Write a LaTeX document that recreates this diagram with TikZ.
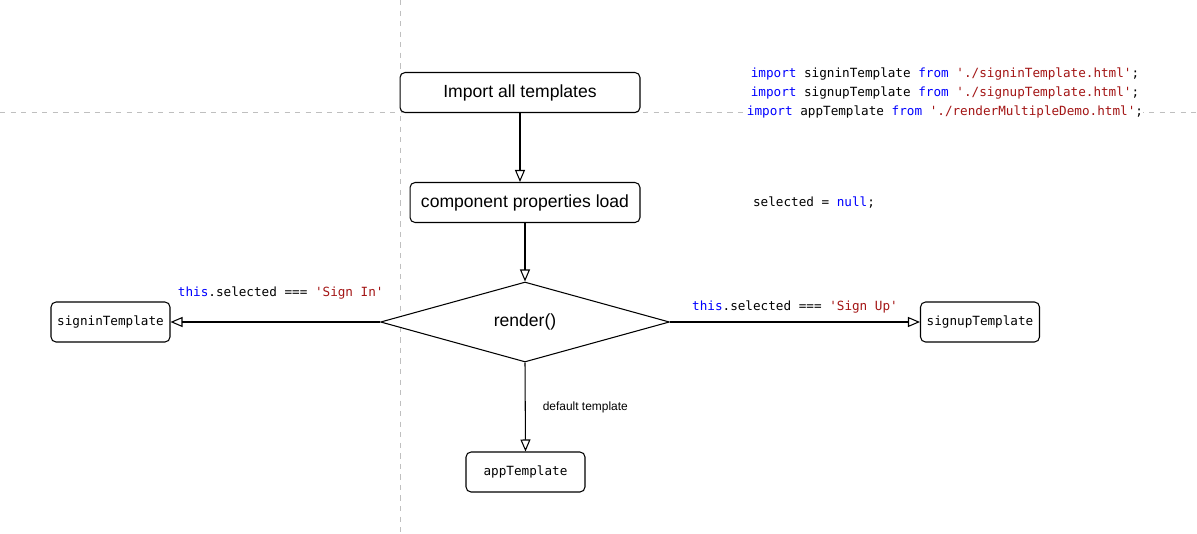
\documentclass[tikz,border=0pt]{standalone}
\usepackage{fontspec}
\setsansfont{Liberation Sans}
\setmonofont{DejaVu Sans Mono}
\usetikzlibrary{shapes.geometric,arrows.meta}
\definecolor{kwblue}{RGB}{0,0,255}
\definecolor{strred}{RGB}{163,21,21}
\newcommand{\codekw}[1]{\textcolor{kwblue}{#1}}
\newcommand{\codestr}[1]{\textcolor{strred}{#1}}

\begin{document}
\begin{tikzpicture}
[
  x=0.02cm, y=-0.02cm,
  guide/.style={dashed,gray!50,line width=0.4pt},
  box/.style={draw,fill=white,rounded corners=1mm,line width=0.6pt,minimum height=0.8cm,inner sep=2pt,font=\sffamily\fontsize{10}{12}\selectfont},
  tbox/.style={box,minimum width=2.38cm,font=\ttfamily\fontsize{7.2}{9}\selectfont},
  decision/.style={diamond,draw,fill=white,line width=0.6pt,minimum width=5.78cm,minimum height=1.6cm,inner sep=0pt,font=\sffamily\fontsize{10}{12}\selectfont},
  flow/.style={-{Triangle[open,length=2.4mm,width=2mm]},line width=0.6pt},
  code/.style={inner sep=0pt,align=center,font=\ttfamily\fontsize{7.2}{11.05}\selectfont},
  lbl/.style={inner sep=0pt,font=\sffamily\fontsize{6.8}{8}\selectfont}
]
\useasboundingbox (0,0) rectangle (1197,534);

% guides
\draw[guide] (400,0) -- (400,534);
\draw[guide] (0,112) -- (1197,112);

% steps
\node[box,minimum width=4.8cm] (import) at (520,92.5) {Import all templates};
\node[box,minimum width=4.6cm] (props) at (525,202.5) {component properties load};
\node[decision] (render) at (525,322) {render()};

% templates
\node[tbox] (signin) at (110.5,322) {signinTemplate};
\node[tbox] (signup) at (980,322) {signupTemplate};
\node[tbox] (app) at (525.5,472) {appTemplate};

% code notes
\node[code,fill=white] (imports) at (945,93) {\codekw{import} signinTemplate \codekw{from} \codestr{'./signinTemplate.html'};\\
\codekw{import} signupTemplate \codekw{from} \codestr{'./signupTemplate.html'};\\
\codekw{import} appTemplate \codekw{from} \codestr{'./renderMultipleDemo.html'};};
\node[code] (selnull) at (814,203) {selected = \codekw{null};};

% flow
\draw[flow] (import.south) -- (import.south |- props.north);
\draw[flow] (props.south) -- (render.north);
\draw[flow] (render.west) -- (signin.east) node[midway,code,xshift=0.11cm,yshift=0.58cm] {\codekw{this}.selected === \codestr{'Sign In'}};
\draw[flow] (render.east) -- (signup.west) node[midway,code,yshift=0.3cm] {\codekw{this}.selected === \codestr{'Sign Up'}};
\draw[flow] (render.south) -- (app.north) node[midway,lbl,right=0.34cm] {default template};

\end{tikzpicture}
\end{document}
